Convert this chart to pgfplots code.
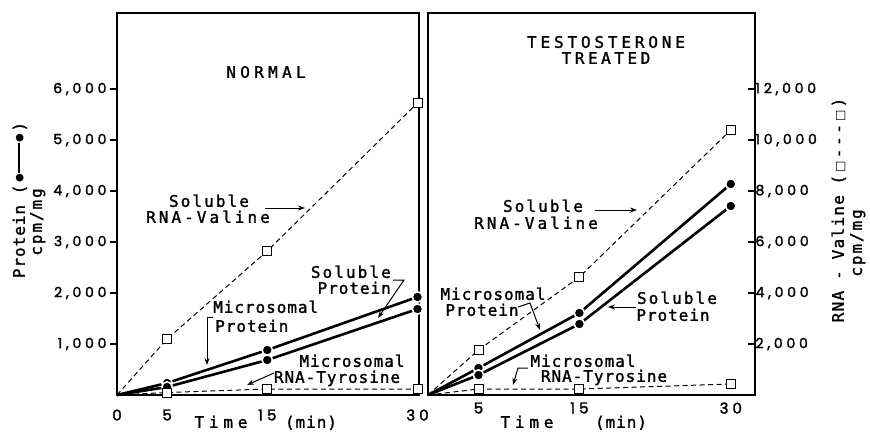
\documentclass[border=0pt]{standalone}
\usepackage{pgfplots}
\pgfplotsset{compat=1.18}
\usetikzlibrary{arrows.meta}
\usepackage{fontspec}
\setmainfont{DejaVu Sans Mono}[FakeBold=1.5, LetterSpace=6]
\newfontfamily\tickfont{Poppins}[LetterSpace=27, FakeBold=2]
\newfontfamily\symfont{DejaVu Sans}
\newcommand{\fs}[1]{\fontsize{#1}{#1}\selectfont}
\newcommand{\ls}[2]{{\addfontfeature{LetterSpace=#1}#2}}
\begin{document}
\begin{tikzpicture}
\useasboundingbox (0pt,0pt) rectangle (870pt,432pt);
\pgfplotsset{
  panel/.style={anchor=south west, scale only axis, height=382pt, ymin=0, clip=false,
    axis line style={line width=1.2pt},
    scaled y ticks=false,
    /pgf/number format/assume math mode=true,
    /pgf/number format/1000 sep={,},
    tick label style={font=\tickfont\fs{14}},
    x tick style={draw=none}, xtick pos=bottom,
    xticklabel style={yshift=-4pt, font=\tickfont\fs{15}}},
  prot/.style={black, line width=2.6pt, mark=*, mark indices={2,3,4}, mark size=5.2,
    mark options={fill=black, draw=white, line width=1.6pt}},
  rna/.style={black, line width=1pt, dash pattern=on 5pt off 3.5pt, mark=square*, mark indices={2,3,4},
    mark size=4.5, mark options={solid, fill=white, draw=black, line width=0.9pt}},
}
% ---------- left panel: protein ----------
\begin{axis}[panel, at={(117pt,37pt)}, width=302pt, xmin=0, xmax=30.15, ymax=7490,
  xtick={0,5,15,30}, ytick={1000,2000,3000,4000,5000,6000}, ytick pos=left,
  y tick style={line width=1.2pt, black}, tick align=outside, major tick length=7pt]
\addplot[prot] coordinates {(0,0) (5,235) (15,882) (30,1922)};
\addplot[prot] coordinates {(0,0) (5,157) (15,686) (30,1686)};
\end{axis}
% ---------- left panel: RNA ----------
\begin{axis}[panel, at={(117pt,37pt)}, width=302pt, xmin=0, xmax=30.15, ymax=14980, hide axis]
\addplot[rna] coordinates {(0,0) (5,2196) (15,5647) (30,11451)};
\addplot[rna] coordinates {(0,0) (5,98) (15,235) (30,235)};
\end{axis}
% ---------- right panel: protein ----------
\begin{axis}[panel, at={(428pt,37pt)}, width=327pt, xmin=0, xmax=32.4, ymax=7490,
  xtick={5,15,30}, ytick=\empty]
\addplot[prot] coordinates {(0,0) (5,529) (15,1608) (30,4137)};
\addplot[prot] coordinates {(0,0) (5,392) (15,1392) (30,3706)};
\end{axis}
% ---------- right panel: RNA ----------
\begin{axis}[panel, at={(428pt,37pt)}, width=327pt, xmin=0, xmax=32.4, ymax=14980,
  axis x line=none, axis y line*=right, axis line style={-, line width=1.2pt},
  ytick={2000,4000,6000,8000,10000,12000}, tick align=inside, major tick length=7pt,
  y tick style={line width=1.2pt, black}, yticklabel style={xshift=-3pt}]
\addplot[rna] coordinates {(0,0) (5,1765) (15,4627) (30,10392)};
\addplot[rna] coordinates {(0,0) (5,235) (15,235) (30,431)};
\end{axis}
% ---------- annotations ----------
\begin{scope}[x=1pt,y=1pt]
\tikzset{ann/.style={font=\fs{16}, inner sep=0pt, text height=11.7pt, text depth=0pt},
  arr/.style={-{Stealth[length=7pt,width=5pt]}, line width=1pt}}
% left
\node[ann] at (266,360) {\ls{27}{NORMAL}};
\node[ann] at (209,231) {\ls{13}{Soluble}};
\node[ann] at (208,215) {\ls{19}{RNA-Valine}};
\draw[arr] (265,224) -- (305,224);
\node[ann, anchor=west] at (213,125) {Microsomal};
\node[ann, anchor=west] at (215,106) {Protein};
\draw[arr] (213,115) -- (207,115) -- (207,67);
\node[ann, anchor=east] at (391,160) {\ls{13}{Soluble}};
\node[ann, anchor=east] at (391,144) {Protein};
\draw[arr] (393,152) -- (404,152) -- (378,114);
\node[ann] at (352,71) {Microsomal};
\node[ann] at (337,55) {RNA-Tyrosine};
\draw[arr] (274,59) -- (247,47);
% right
\node[ann] at (606,390) {\ls{24}{TESTOSTERONE}};
\node[ann] at (606,374) {\ls{22}{TREATED}};
\node[ann] at (543,226) {\ls{13}{Soluble}};
\node[ann] at (536,209) {\ls{19}{RNA-Valine}};
\draw[arr] (595,222) -- (637,222);
\node[ann] at (493,138) {Microsomal};
\node[ann] at (482,122) {Protein};
\draw[arr] (518,125) -- (530,129) -- (540,102);
\node[ann] at (677,134) {\ls{13}{Soluble}};
\node[ann] at (673,117) {Protein};
\draw[arr] (636,125) -- (608,125);
\node[ann] at (583,71) {Microsomal};
\node[ann] at (604,56) {RNA-Tyrosine};
\draw[arr] (528,64) -- (518,64) -- (513,47);
% x labels
\node[ann] at (221,10) {\ls{30}{Time}};
\node[ann] at (311,10) {(min)};
\node[ann] at (527,10) {\ls{30}{Time}};
\node[ann] at (621,10) {(min)};
% y labels
\node[ann, rotate=90] at (19,232) {Protein (\,\raisebox{2.6pt}{\symfont\fs{10}●}\rule[0.32em]{1.9em}{1.8pt}\raisebox{2.6pt}{\symfont\fs{10}●}\,)};
\node[ann, rotate=90] at (36,210) {\ls{12}{cpm/mg}};
\node[ann, rotate=90] at (838,222) {\ls{8}{RNA - Valine} (\,{\symfont\fs{12}□}\,-\,-\,-\,{\symfont\fs{12}□}\,)};
\node[ann, rotate=90] at (856,189) {\ls{12}{cpm/mg}};
\end{scope}
\end{tikzpicture}
\end{document}
